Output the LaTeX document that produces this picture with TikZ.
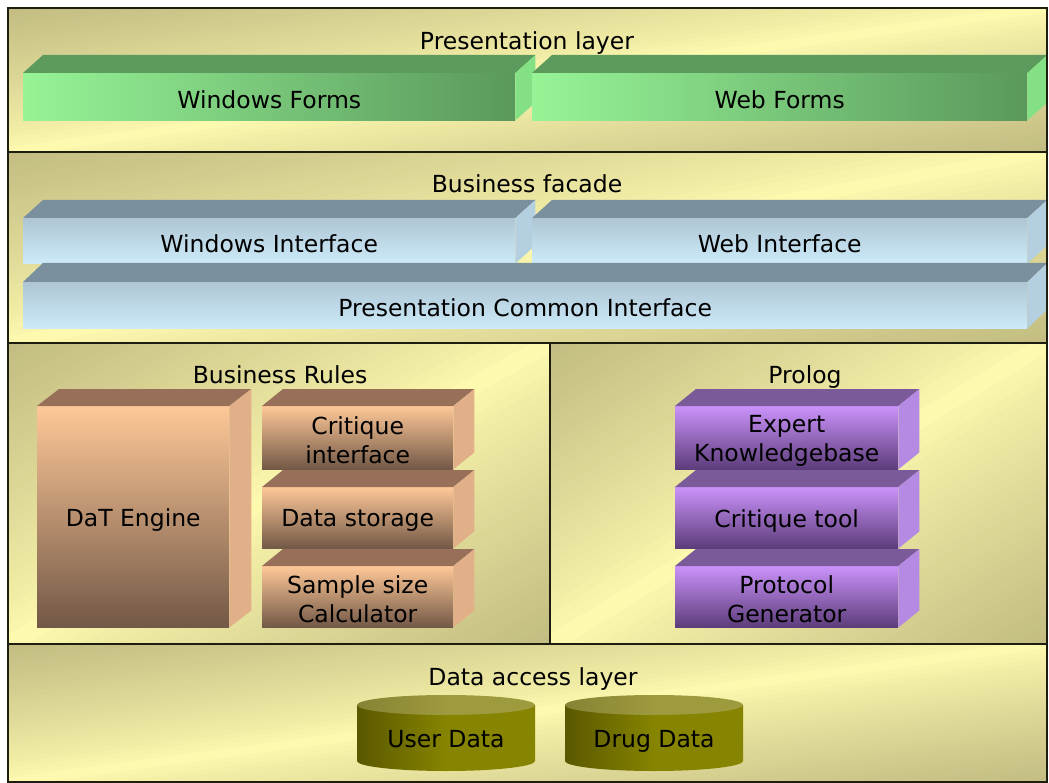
\documentclass[tikz,border=0pt]{standalone}
\usepackage{fontspec}
\setmainfont{DejaVu Sans}

% panel background
\definecolor{pdark}{HTML}{C2BC82}
\definecolor{plight}{HTML}{FFFBB0}
% green blocks
\definecolor{gfrontA}{HTML}{96F496}
\definecolor{gfrontB}{HTML}{5A985C}
\definecolor{gtop}{HTML}{5C9A5E}
\definecolor{gside}{HTML}{84E084}
% blue blocks
\definecolor{bfrontA}{HTML}{AEC6D4}
\definecolor{bfrontM}{HTML}{C6E4F4}
\definecolor{bfrontB}{HTML}{CCEAF9}
\definecolor{btop}{HTML}{7A909E}
\definecolor{bside}{HTML}{B4D0E0}
% tan blocks
\definecolor{tfrontA}{HTML}{FEC898}
\definecolor{tfrontB}{HTML}{725846}
\definecolor{ttop}{HTML}{98705A}
\definecolor{tside}{HTML}{E2B088}
% purple blocks
\definecolor{vfrontA}{HTML}{CA92FA}
\definecolor{vfrontB}{HTML}{5C3C7A}
\definecolor{vtop}{HTML}{7A5A98}
\definecolor{vside}{HTML}{B48AE2}
% data stores
\definecolor{cyltop}{HTML}{9E9A3E}
\definecolor{cylmid}{HTML}{868400}
\definecolor{cyledge}{HTML}{5A5800}
\definecolor{frameline}{HTML}{1E1E10}

% panel filled with a light band along its rising diagonal, darker towards
% the upper left and lower right corners: x0, y0 (top), x1, y1 (bottom)
\newcommand\panelfill[4]{%
  \begin{scope}
    \clip (#1,#2) rectangle (#3,#4);
    \foreach \i in {-30,...,29} {
      \pgfmathsetmacro\pa{\i/30}
      \pgfmathsetmacro\pb{(\i+1)/30+0.003}
      \pgfmathtruncatemacro\mix{100*(abs(\i+0.5)/30)^0.8}
      \fill[pdark!\mix!plight]
        ({#1+\pa*(#3-#1)},#4) -- ({#3+\pa*(#3-#1)},#2)
        -- ({#3+\pb*(#3-#1)},#2) -- ({#1+\pb*(#3-#1)},#4) -- cycle;
    }
  \end{scope}
}

% top and side faces of an extruded block
\newcommand\blockfaces[5]{%
  \fill[#2] (#1.north west) -- ([shift={(#4,-#5)}]#1.north west)
    -- ([shift={(#4,-#5)}]#1.north east) -- (#1.north east) -- cycle;
  \fill[#3] (#1.north east) -- ([shift={(#4,-#5)}]#1.north east)
    -- ([shift={(#4,-#5)}]#1.south east) -- (#1.south east) -- cycle;
}

% a data store drawn as a cylinder: centre x, top y, bottom y, x radius
\newcommand\datastore[4]{%
  \shade[left color=cyledge, right color=cylmid, middle color=cylmid]
    (#1-#4,#2) -- (#1-#4,#3) arc[start angle=180, end angle=0, x radius=#4, y radius=10]
    -- (#1+#4,#2) -- cycle;
  \shade[left color=cyltop!85!black, right color=cyltop, middle color=cyltop]
    (#1,#2) ellipse[x radius=#4, y radius=10];
}

\begin{document}
\begin{tikzpicture}[x=1pt, y=-1pt,
  font=\fontsize{23.5}{29}\selectfont,
  front/.style={anchor=north west, inner sep=0pt},
  greenfront/.style={front, left color=gfrontA, right color=gfrontB},
  bluefront/.style={front, top color=bfrontA, middle color=bfrontM, bottom color=bfrontB},
  tanfront/.style={front, top color=tfrontA, bottom color=tfrontB},
  violetfront/.style={front, top color=vfrontA, bottom color=vfrontB},
  lbl/.style={inner sep=0pt, align=center},
  title/.style={inner sep=0pt, anchor=base},
  frame/.style={draw=frameline, line width=2.4pt}]

\useasboundingbox (0,0) rectangle (1049,783);
\fill[white] (0,0) rectangle (1049,783);

% layer panels
\panelfill{8}{8}{1047}{152}
\panelfill{8}{152}{1047}{343}
\panelfill{8}{343}{550}{644}
\panelfill{550}{343}{1047}{644}
\panelfill{8}{644}{1047}{782}

% presentation layer
\node[title] (tpres) at (527,50) {Presentation layer};
\node[greenfront, minimum width=492, minimum height=47] (winforms) at (23,73) {};
\blockfaces{winforms}{gtop}{gside}{20}{18}
\node[greenfront, minimum width=495, minimum height=47] (webforms) at (532,73) {};
\blockfaces{webforms}{gtop}{gside}{20}{18}
\node[lbl] (winformsL) at ([yshift=-3pt]winforms.center) {Windows Forms};
\node[lbl] (webformsL) at ([yshift=-3pt]webforms.center) {Web Forms};

% business facade
\node[title] (tfacade) at (527,193) {Business facade};
\node[bluefront, minimum width=492, minimum height=45] (winif) at (23,218) {};
\blockfaces{winif}{btop}{bside}{20}{18}
\node[bluefront, minimum width=495, minimum height=45] (webif) at (532,218) {};
\blockfaces{webif}{btop}{bside}{20}{18}
\node[bluefront, minimum width=1004, minimum height=46] (pci) at (23,282) {};
\blockfaces{pci}{btop}{bside}{20}{19}
\node[lbl] (winifL) at ([yshift=-3pt]winif.center) {Windows Interface};
\node[lbl] (webifL) at ([yshift=-3pt]webif.center) {Web Interface};
\node[lbl] (pciL) at ([yshift=-3pt]pci.center) {Presentation Common Interface};

% business rules
\node[title] (trules) at (280,383) {Business Rules};
\node[tanfront, minimum width=192, minimum height=221] (dat) at (37,406) {};
\blockfaces{dat}{ttop}{tside}{22}{17}
\node[tanfront, minimum width=191, minimum height=63] (critif) at (262,406) {};
\blockfaces{critif}{ttop}{tside}{21}{17}
\node[tanfront, minimum width=191, minimum height=61] (store) at (262,487) {};
\blockfaces{store}{ttop}{tside}{21}{17}
\node[tanfront, minimum width=191, minimum height=61] (sample) at (262,566) {};
\blockfaces{sample}{ttop}{tside}{21}{17}
\node[lbl] (datL) at ([yshift=-3pt]dat.center) {DaT Engine};
\node[lbl] (critifL) at ([yshift=-3pt]critif.center) {Critique\\interface};
\node[lbl] (storeL) at ([yshift=-3pt]store.center) {Data storage};
\node[lbl] (sampleL) at ([yshift=-3pt]sample.center) {Sample size\\Calculator};

% prolog
\node[title] (tprolog) at (805,383) {Prolog};
\node[violetfront, minimum width=223, minimum height=63] (expert) at (675,406) {};
\blockfaces{expert}{vtop}{vside}{21}{17}
\node[violetfront, minimum width=223, minimum height=61] (crittool) at (675,487) {};
\blockfaces{crittool}{vtop}{vside}{21}{17}
\node[violetfront, minimum width=223, minimum height=61] (protocol) at (675,566) {};
\blockfaces{protocol}{vtop}{vside}{21}{17}
\node[lbl] (expertL) at ([yshift=-3pt]expert.center) {Expert\\Knowledgebase};
\node[lbl] (crittoolL) at ([yshift=-3pt]crittool.center) {Critique tool};
\node[lbl] (protocolL) at ([yshift=-3pt]protocol.center) {Protocol\\Generator};

% data access layer
\node[title] (tdata) at (533,685) {Data access layer};
\datastore{446}{705}{761}{89}
\node[title] (userdata) at (446,747) {User Data};
\datastore{654}{705}{761}{89}
\node[title] (drugdata) at (654,747) {Drug Data};

% frame and dividers
\draw[frame] (8,8) rectangle (1047,782);
\draw[frame] (8,152) -- (1047,152);
\draw[frame] (8,343) -- (1047,343);
\draw[frame] (8,644) -- (1047,644);
\draw[frame] (550,343) -- (550,644);
\end{tikzpicture}
\end{document}
